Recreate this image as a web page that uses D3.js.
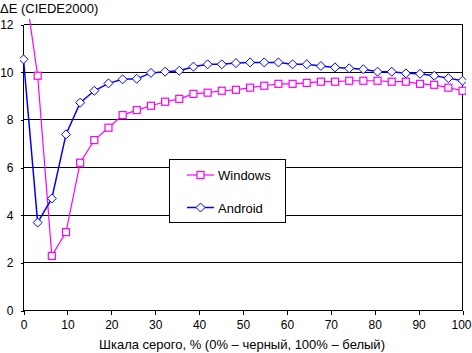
<!DOCTYPE html>
<html>
<head>
<meta charset="utf-8">
<script src="https://cdn.jsdelivr.net/npm/d3@7"></script>
<style>
  body { margin: 0; background: #fff; }
  svg { display: block; font-family: "Liberation Sans", Arial, sans-serif; }
</style>
</head>
<body>
<div id="chart"></div>
<script>
// grey level steps, 32 points from 0 to 100 %
var grey = d3.range(32).map(function(i){ return i * 100 / 31; });

var windows = [14.0, 9.85, 2.29, 3.29, 6.2, 7.15, 7.67, 8.2, 8.41, 8.59,
               8.76, 8.88, 9.09, 9.14, 9.22, 9.26, 9.35, 9.43, 9.51, 9.51,
               9.55, 9.6, 9.6, 9.64, 9.64, 9.64, 9.6, 9.6, 9.51, 9.47,
               9.35, 9.22];

var android = [10.54, 3.69, 4.7, 7.39, 8.72, 9.22, 9.53, 9.7, 9.72, 9.97,
               10.02, 10.06, 10.23, 10.33, 10.33, 10.38, 10.41, 10.41, 10.41, 10.33,
               10.33, 10.26, 10.2, 10.16, 10.12, 10.02, 10.02, 9.95, 9.93, 9.85,
               9.75, 9.64];

var xTicks = [0, 10, 20, 30, 40, 50, 60, 70, 80, 90, 100];
var yTicks = [0, 2, 4, 6, 8, 10, 12];

function init(){
    var w = 472, h = 353;

    var x = d3.scaleLinear().domain([0, 100]).range([23.5, 462.5]);
    var y = d3.scaleLinear().domain([0, 12]).range([310.5, 24.5]);

    var svg = d3.select("#chart").append("svg")
        .attr("width", w)
        .attr("height", h);

    svg.append("defs").append("clipPath")
        .attr("id", "clip")
        .append("rect")
        .attr("x", 20).attr("y", 19)
        .attr("width", 446).attr("height", 295);

    // gridlines
    svg.selectAll("line.grid")
        .data(yTicks.slice(1))
        .enter().append("line")
        .attr("class", "grid")
        .attr("x1", x(0)).attr("x2", x(100))
        .attr("y1", function(d){ return y(d); })
        .attr("y2", function(d){ return y(d); })
        .attr("stroke", "#000")
        .attr("shape-rendering", "crispEdges");

    // right border
    svg.append("line")
        .attr("x1", x(100)).attr("x2", x(100))
        .attr("y1", y(12)).attr("y2", y(0))
        .attr("stroke", "#000")
        .attr("shape-rendering", "crispEdges");

    // axes
    var xAxis = d3.axisBottom(x).tickValues(xTicks).tickSize(4).tickPadding(6);
    var gx = svg.append("g")
        .attr("transform", "translate(0," + y(0) + ")")
        .call(xAxis);

    var yAxis = d3.axisLeft(y).tickValues(yTicks).tickSize(3).tickPadding(7);
    var gy = svg.append("g")
        .attr("transform", "translate(" + x(0) + ",0)")
        .call(yAxis);

    [gx, gy].forEach(function(g){
        g.select(".domain").attr("stroke", "#000").attr("shape-rendering", "crispEdges");
        g.selectAll(".tick line").attr("stroke", "#000").attr("shape-rendering", "crispEdges");
        g.selectAll(".tick text")
            .attr("fill", "#000")
            .style("font-size", "12px")
            .style("font-family", "\"Liberation Sans\", Arial, sans-serif");
    });
    gx.selectAll(".tick text").filter(function(d){ return d === 100; }).attr("dx", "-1.5");
    gx.select(".domain").attr("d", "M" + x(0) + ",0H" + x(100));
    gy.select(".domain").attr("d", "M0," + y(0) + "V" + y(12));

    // series
    var plot = svg.append("g").attr("clip-path", "url(#clip)");

    var line = d3.line()
        .x(function(d){ return x(d[0]); })
        .y(function(d){ return y(d[1]); });

    var winPts = grey.map(function(g, i){ return [g, windows[i]]; });
    var andPts = grey.map(function(g, i){ return [g, android[i]]; });

    plot.append("path")
        .datum(winPts)
        .attr("d", line)
        .attr("fill", "none")
        .attr("stroke", "#ff00ff")
        .attr("stroke-width", 1.2);

    plot.selectAll("rect.win")
        .data(winPts)
        .enter().append("rect")
        .attr("class", "win")
        .attr("x", function(d){ return x(d[0]) - 3.5; })
        .attr("y", function(d){ return y(d[1]) - 3.5; })
        .attr("width", 7).attr("height", 7)
        .attr("fill", "#fff")
        .attr("stroke", "#ff00ff")
        .attr("stroke-width", 1.2);

    var diamond = "M0,-4.5L4.5,0L0,4.5L-4.5,0Z";

    plot.append("path")
        .datum(andPts)
        .attr("d", line)
        .attr("fill", "none")
        .attr("stroke", "#0000ff")
        .attr("stroke-width", 1.5);

    plot.selectAll("path.and")
        .data(andPts)
        .enter().append("path")
        .attr("class", "and")
        .attr("d", diamond)
        .attr("transform", function(d){ return "translate(" + x(d[0]) + "," + y(d[1]) + ")"; })
        .attr("fill", "#fff")
        .attr("stroke", "#0000ff")
        .attr("stroke-width", 1);

    // legend
    var lg = svg.append("g");
    lg.append("rect")
        .attr("x", 169.5).attr("y", 159.5)
        .attr("width", 116).attr("height", 63)
        .attr("fill", "#fff")
        .attr("stroke", "#000");

    var legendItems = [
        { name: "Windows", color: "#ff00ff", y: 175 },
        { name: "Android", color: "#0000ff", y: 207.5 }
    ];
    legendItems.forEach(function(it, i){
        lg.append("line")
            .attr("x1", 187).attr("x2", 214)
            .attr("y1", it.y).attr("y2", it.y)
            .attr("stroke", it.color)
            .attr("stroke-width", i === 0 ? 1.2 : 1.5);
        if (i === 0) {
            lg.append("rect")
                .attr("x", 197).attr("y", it.y - 3.5)
                .attr("width", 7).attr("height", 7)
                .attr("fill", "#fff")
                .attr("stroke", it.color)
                .attr("stroke-width", 1.2);
        } else {
            lg.append("path")
                .attr("d", diamond)
                .attr("transform", "translate(200.5," + it.y + ")")
                .attr("fill", "#fff")
                .attr("stroke", it.color);
        }
        lg.append("text")
            .attr("x", 218).attr("y", it.y + 5)
            .style("font-size", "13px")
            .text(it.name);
    });

    // titles
    svg.append("text")
        .attr("x", 0).attr("y", 13)
        .style("font-size", "13px")
        .text("ΔE (CIEDE2000)");

    svg.append("text")
        .attr("x", 242).attr("y", 349)
        .attr("text-anchor", "middle")
        .style("font-size", "13px")
        .text("Шкала серого, % (0% – черный, 100% – белый)");
}
window.onload = init;
</script>
</body>
</html>
